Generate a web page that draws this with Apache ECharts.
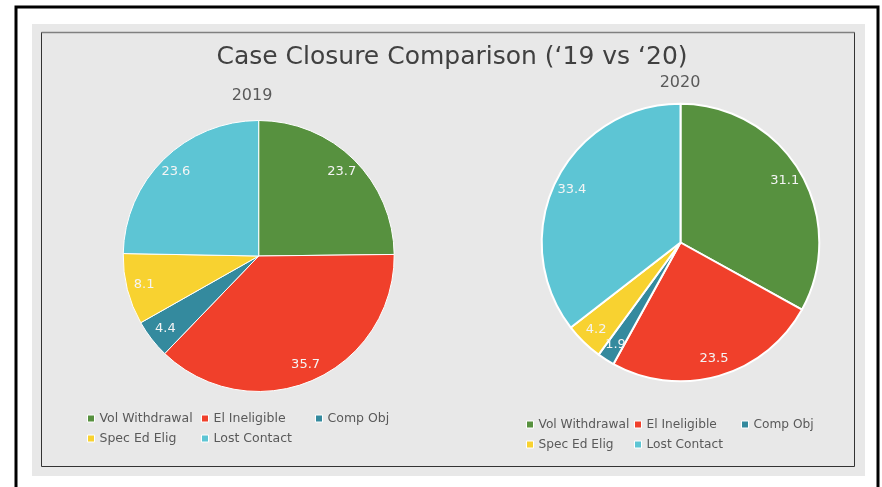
<!DOCTYPE html>
<html>
<head>
<meta charset="utf-8">
<script src="https://cdn.jsdelivr.net/npm/echarts@6/dist/echarts.min.js"></script>
<style>
html,body{margin:0;padding:0;background:#fff;}
#c{width:882px;height:487px;}
</style>
</head>
<body>
<div id="c"></div>
<script>
const categories = ['Vol Withdrawal', 'El Ineligible', 'Comp Obj', 'Spec Ed Elig', 'Lost Contact'];
const values2019 = [23.7, 35.7, 4.4, 8.1, 23.6];
const values2020 = [31.1, 23.5, 1.9, 4.2, 33.4];
const colors = ['#57913f', '#f0402b', '#348a9e', '#f8d230', '#5dc5d4'];
const mainTitle = 'Case Closure Comparison (\u201819 vs \u201820)';
const pieTitles = ['2019', '2020'];
// legend columns (Excel-style grid: row 1 = first three, row 2 = last two)
const legendColumns = [
  [categories[0], categories[3]],
  [categories[1], categories[4]],
  [categories[2]]
];

const FONT = 'DejaVu Sans';
const TXT = '#595959';

function toData(vals) {
  return categories.map((c, i) => ({ name: c, value: vals[i] }));
}

function pieSeries(vals, center, r, bw) {
  return [{
    type: 'pie',
    center: center,
    radius: [0, r],
    startAngle: 90,
    clockwise: true,
    data: toData(vals),
    label: { show: false },
    labelLine: { show: false },
    itemStyle: { borderColor: '#ffffff', borderWidth: bw },
    emphasis: { disabled: true },
    silent: true,
    animation: false
  }, {
    type: 'pie',
    center: center,
    radius: [r * 0.7, r],
    startAngle: 90,
    clockwise: true,
    data: toData(vals),
    itemStyle: { color: 'rgba(0,0,0,0)', borderWidth: 0 },
    label: {
      show: true, position: 'inside', color: '#f4f4f4',
      fontFamily: FONT, fontSize: 13,
      formatter: p => p.value.toFixed(1)
    },
    labelLine: { show: false },
    emphasis: { disabled: true },
    silent: true,
    animation: false
  }];
}

function legends(lefts, top, fontSize) {
  return legendColumns.map((col, i) => ({
    orient: 'vertical', icon: 'rect', itemWidth: 7, itemHeight: 7,
    itemGap: 5, selectedMode: false,
    left: lefts[i], top: top, data: col,
    itemStyle: { borderColor: '#ffffff', borderWidth: 1 },
    textStyle: { color: TXT, fontFamily: FONT, fontSize: fontSize, lineHeight: 15 }
  }));
}

const chart = echarts.init(document.getElementById('c'), null, { renderer: 'canvas' });
chart.setOption({
  backgroundColor: '#ffffff',
  color: colors,
  animation: false,
  graphic: [
    { type: 'rect', z: -10, shape: { x: 16, y: 7, width: 862, height: 500 }, style: { fill: '#ffffff', stroke: '#000000', lineWidth: 3 } },
    { type: 'rect', z: -9, shape: { x: 32, y: 24, width: 833, height: 452 }, style: { fill: '#e8e8e8' } },
    { type: 'rect', z: -8, shape: { x: 41.5, y: 32.5, width: 813, height: 434 }, style: { fill: 'none', stroke: '#333333', lineWidth: 1 } },
    { type: 'line', z: -7, shape: { x1: 41.5, y1: 32.5, x2: 854.5, y2: 32.5 }, style: { stroke: '#808080', lineWidth: 1.5 } }
  ],
  title: [
    { text: mainTitle, left: 447, top: 40, textAlign: 'center',
      textStyle: { color: '#404040', fontFamily: FONT, fontSize: 25, fontWeight: 'normal' } },
    { text: pieTitles[0], left: 247, top: 83, textAlign: 'center',
      textStyle: { color: TXT, fontFamily: FONT, fontSize: 16, fontWeight: 'normal' } },
    { text: pieTitles[1], left: 675, top: 70, textAlign: 'center',
      textStyle: { color: TXT, fontFamily: FONT, fontSize: 16, fontWeight: 'normal' } }
  ],
  legend: legends([82, 196, 310], 406, 12.5).concat(legends([521, 629, 736], 412, 12.2)),
  series: pieSeries(values2019, [258.7, 256], 135.5, 1)
    .concat(pieSeries(values2020, [680.5, 242.5], 138.8, 2))
});
</script>
</body>
</html>
